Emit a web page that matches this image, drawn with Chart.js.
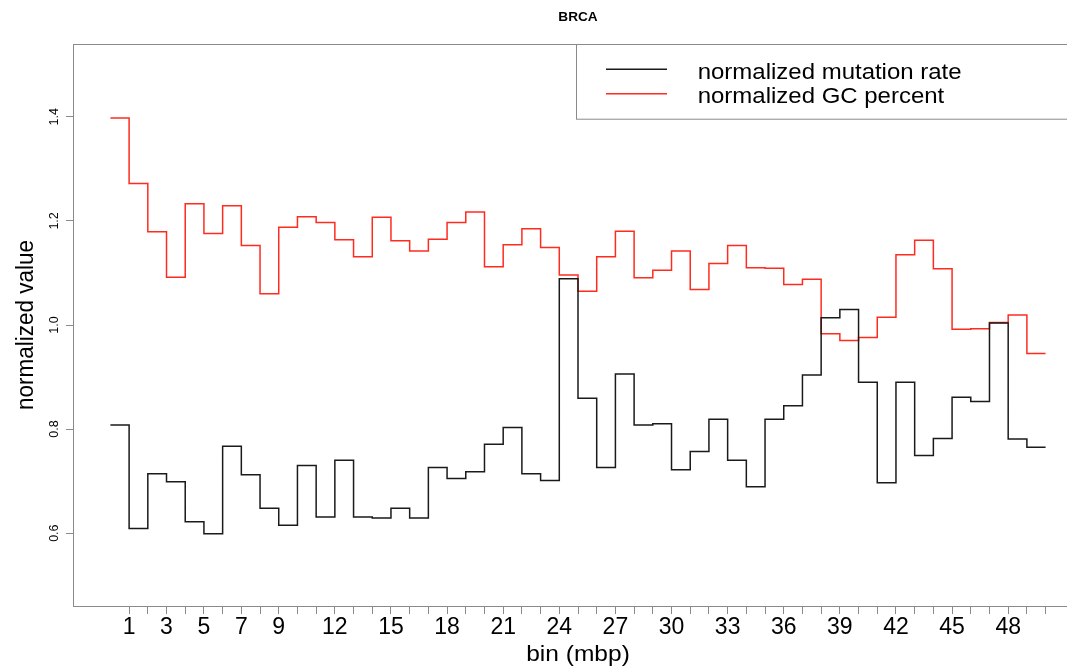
<!DOCTYPE html>
<html>
<head>
<meta charset="utf-8">
<script src="https://cdn.jsdelivr.net/npm/chart.js@4.4.1/dist/chart.umd.min.js"></script>
<style>
  html, body { margin: 0; padding: 0; background: #fff; overflow: hidden; width: 1067px; height: 667px; }
  canvas { display: block; }
</style>
</head>
<body>
<canvas id="chart" width="1100" height="667"></canvas>
<script>
// ---- data -------------------------------------------------------------
const chartTitle = 'BRCA';
const xTitle = 'bin (mbp)';
const yTitle = 'normalized value';
const seriesNames = ['normalized mutation rate', 'normalized GC percent'];

const bins = [1, 2, 3, 4, 5, 6, 7, 8, 9, 10, 11, 12, 13, 14, 15, 16, 17, 18, 19, 20,
              21, 22, 23, 24, 25, 26, 27, 28, 29, 30, 31, 32, 33, 34, 35, 36, 37, 38, 39, 40,
              41, 42, 43, 44, 45, 46, 47, 48, 49, 50];
const binLabels = [1, 3, 5, 7, 9, 12, 15, 18, 21, 24, 27, 30, 33, 36, 39, 42, 45, 48];
const valueTicks = [0.6, 0.8, 1.0, 1.2, 1.4];

const mutationRate = [0.808, 0.609, 0.714, 0.699, 0.622, 0.599, 0.767, 0.712, 0.648, 0.615,
                      0.730, 0.631, 0.740, 0.631, 0.629, 0.648, 0.629, 0.726, 0.705, 0.718,
                      0.771, 0.803, 0.714, 0.701, 1.089, 0.859, 0.726, 0.906, 0.808, 0.810,
                      0.722, 0.757, 0.819, 0.740, 0.689, 0.819, 0.845, 0.904, 1.014, 1.030,
                      0.890, 0.697, 0.890, 0.749, 0.782, 0.861, 0.853, 1.004, 0.781, 0.765];
const gcPercent = [1.398, 1.272, 1.179, 1.092, 1.233, 1.176, 1.229, 1.153, 1.060, 1.188,
                   1.208, 1.197, 1.164, 1.131, 1.207, 1.162, 1.142, 1.165, 1.197, 1.217,
                   1.112, 1.154, 1.185, 1.149, 1.096, 1.065, 1.131, 1.180, 1.091, 1.105,
                   1.142, 1.068, 1.118, 1.153, 1.110, 1.109, 1.078, 1.088, 0.983, 0.970,
                   0.976, 1.015, 1.135, 1.163, 1.108, 0.992, 0.993, 1.005, 1.019, 0.945];

// ---- styling ----------------------------------------------------------
const FONT = "'Liberation Sans', Arial, Helvetica, sans-serif";
const AXIS_GREY = '#8a8a8a';
const LINE_COLORS = ['#1a1a1a', '#ff2b1f'];
const TEXT_SX = 1.09;   // slight horizontal widening of the annotation text

// each bin is drawn as a flat step spanning [bin-1, bin]
function stepPoints(values) {
  const pts = bins.map((b, i) => ({ x: b - 1, y: values[i] }));
  pts.push({ x: bins[bins.length - 1], y: values[values.length - 1] });
  return pts;
}

function drawText(ctx, text, x, y, o) {
  ctx.save();
  ctx.translate(x, y);
  ctx.scale(TEXT_SX, 1);
  if (o.rotate) ctx.rotate(o.rotate);
  ctx.font = (o.weight || 'normal') + ' ' + o.size + 'px ' + FONT;
  ctx.fillStyle = o.color || '#000';
  ctx.textAlign = o.align || 'center';
  ctx.textBaseline = 'alphabetic';
  ctx.fillText(text, 0, 0);
  ctx.restore();
}

const frame = {
  id: 'frame',
  afterDraw(chart) {
    const { ctx, chartArea: a, scales: { y } } = chart;
    ctx.save();
    ctx.strokeStyle = AXIS_GREY;
    ctx.lineWidth = 1;
    ctx.strokeRect(a.left + 0.5, a.top + 0.5, a.right - a.left, a.bottom - a.top);

    // value axis labels, written along the axis
    valueTicks.forEach(v => {
      drawText(ctx, v.toFixed(1), 58.3, y.getPixelForValue(v), { size: 12.5, rotate: -Math.PI / 2 });
    });
    drawText(ctx, yTitle, 33, (a.top + a.bottom) / 2, { size: 22.5, rotate: -Math.PI / 2 });
    drawText(ctx, xTitle, (a.left + a.right) / 2, 661, { size: 22.5 });
    drawText(ctx, chartTitle, (a.left + a.right) / 2, 21, { size: 12.5, weight: 'bold' });

    // legend box in the top-right corner
    const boxLeft = 576, boxBottom = 118.7;
    ctx.strokeStyle = AXIS_GREY;
    ctx.strokeRect(boxLeft + 0.5, a.top + 0.5, a.right - boxLeft, boxBottom - a.top);
    chart.data.datasets.forEach((ds, i) => {
      const ly = 69.3 + i * 24.4;
      ctx.strokeStyle = ds.borderColor;
      ctx.lineWidth = ds.borderWidth;
      ctx.beginPath();
      ctx.moveTo(606, ly);
      ctx.lineTo(667, ly);
      ctx.stroke();
      drawText(ctx, ds.label, 697.7, ly + 9.7, { size: 22, align: 'left' });
    });
    ctx.restore();
  }
};

new Chart(document.getElementById('chart'), {
  type: 'line',
  data: {
    datasets: [
      { label: seriesNames[0], data: stepPoints(mutationRate), borderColor: LINE_COLORS[0],
        borderWidth: 1.5, stepped: 'before', pointRadius: 0, fill: false },
      { label: seriesNames[1], data: stepPoints(gcPercent), borderColor: LINE_COLORS[1],
        borderWidth: 1.5, stepped: 'before', pointRadius: 0, fill: false }
    ]
  },
  options: {
    responsive: false,
    animation: false,
    devicePixelRatio: 1,
    events: [],
    layout: { padding: { left: 73, top: 44, right: 17, bottom: 0 }, autoPadding: false },
    plugins: { legend: { display: false }, title: { display: false }, tooltip: { enabled: false } },
    scales: {
      x: {
        type: 'linear', min: -2, max: 52,
        afterBuildTicks: s => { s.ticks = bins.map(v => ({ value: v })); },
        afterFit: s => { s.height = 61; },
        ticks: {
          autoSkip: false, maxRotation: 0, minRotation: 0, padding: 0, color: '#000',
          font: { family: FONT, size: 23 },
          callback: v => (binLabels.includes(v) ? String(v) : '')
        },
        grid: { drawOnChartArea: false, drawTicks: true, tickLength: 8, color: AXIS_GREY },
        border: { display: true, color: AXIS_GREY, width: 1 }
      },
      y: {
        type: 'linear', min: 0.46, max: 1.54,
        afterBuildTicks: s => { s.ticks = valueTicks.map(v => ({ value: v })); },
        afterFit: s => { s.width = 0; },
        ticks: { display: false },
        grid: { drawOnChartArea: false, drawTicks: true, tickLength: 7, color: AXIS_GREY },
        border: { display: true, color: AXIS_GREY, width: 1 }
      }
    }
  },
  plugins: [frame]
});
</script>
</body>
</html>
